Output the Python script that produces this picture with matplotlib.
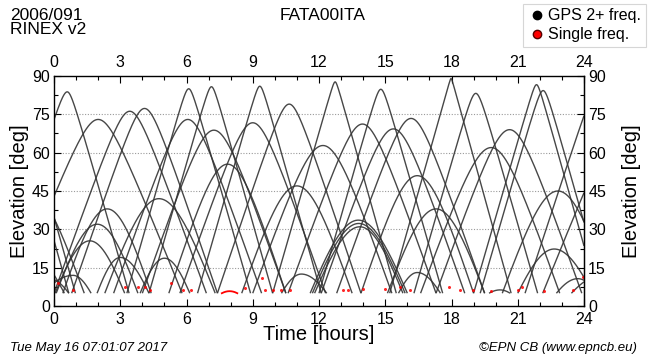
import numpy as np
import matplotlib
matplotlib.use('Agg')
import matplotlib.pyplot as plt
from matplotlib.lines import Line2D

plt.rcParams['font.family'] = ['Liberation Sans', 'DejaVu Sans']

# satellite passes: peak time [h], peak elevation [deg],
# time the track rises above / sets below the 5 deg cut-off [h]
pass_peak = [-2.08, -1.78, -1.11, -1.28, -0.21,
             0.60, 2.00, 2.41, 1.96, 1.62, 0.86, 3.00, 3.43, 4.10, 4.75,
             5.00, 6.10, 6.06, 7.13, 7.24, 7.86, 9.32, 9.00, 10.65, 11.00,
             11.20, 12.18, 12.73, 13.78, 13.80, 13.85, 13.97, 14.80, 15.37, 16.17,
             16.45, 16.45, 17.30, 17.98, 19.10, 19.80, 20.20, 20.63, 21.85, 22.15,
             22.65, 22.82, 23.72, 24.54, 25.93, 24.79]
pass_elev = [86.6, 84.3, 45.0, 22.3, 10.7,
             83.8, 73.0, 38.0, 32.0, 25.5, 12.0, 19.0, 76.2, 77.3, 42.0,
             18.7, 85.0, 73.0, 85.8, 68.8, 55.5, 86.0, 71.7, 79.0, 47.0,
             12.5, 62.8, 87.7, 33.6, 32.3, 31.0, 71.2, 84.8, 69.3, 73.4,
             51.0, 13.1, 38.0, 89.0, 83.2, 62.0, 6.3, 69.0, 86.6, 84.3,
             22.3, 45.0, 10.7, 83.8, 73.0, 12.0]
pass_rise = [-4.93, -4.63, -3.63, -2.93, -1.18,
             -2.60, -1.80, 0.40, 0.10, 0.05, -0.50, 1.95, 0.00, 0.80, 2.30,
             3.90, 3.30, 2.70, 4.30, 4.00, 5.20, 6.50, 5.70, 7.40, 8.50,
             10.30, 9.00, 9.90, 11.60, 11.70, 11.80, 10.60, 12.00, 12.10, 12.80,
             13.90, 15.60, 15.10, 15.20, 16.30, 16.60, 19.70, 17.30, 19.00, 19.30,
             21.00, 20.30, 22.75, 21.33, 22.13, 23.43]
pass_set = [0.67, 0.97, 1.37, 0.47, 0.67,
            3.40, 5.80, 4.40, 3.80, 3.20, 1.68, 4.30, 6.90, 7.40, 7.30,
            6.15, 8.90, 9.40, 9.90, 10.50, 10.50, 12.10, 12.30, 13.90, 13.50,
            12.35, 15.30, 15.50, 16.00, 15.90, 15.80, 17.30, 17.60, 18.60, 19.50,
            19.00, 17.50, 19.50, 20.70, 21.90, 22.90, 20.65, 23.90, 24.60, 24.90,
            24.40, 25.30, 24.60, 27.30, 29.70, 25.60]

# short single-frequency pass (red arc)
single_pass = (7.60, 7.95, 8.30, 5.8)   # rise, peak, set, elevation

# red single-frequency epochs near the horizon
red_time = [0.20, 0.85, 3.20, 3.80, 4.10, 4.35, 5.30, 5.85, 6.20, 8.65,
            9.40, 9.55, 9.93, 10.30, 10.70, 13.10, 13.30, 14.00, 15.00, 15.67,
            16.10, 17.90, 18.40, 18.96, 19.80, 21.00, 21.20, 22.20, 23.50, 23.95]
red_elev = [9.0, 6.3, 7.4, 7.4, 7.4, 6.3, 9.0, 6.3, 6.3, 7.0,
            11.0, 6.3, 6.3, 6.3, 6.3, 6.3, 6.3, 6.5, 6.5, 7.4,
            6.3, 7.4, 6.3, 6.3, 6.0, 6.3, 7.4, 6.0, 6.3, 11.5]


def pass_curve(t_rise, t_peak, t_set, el_max, cutoff=5.0):
    zm = np.radians(90 - el_max)
    th5 = np.arccos(np.cos(np.radians(90 - cutoff)) / np.cos(zm))
    t = np.linspace(max(t_rise, 0), min(t_set, 24), 500)
    frac = np.where(t < t_peak, (t_peak - t) / (t_peak - t_rise),
                    (t - t_peak) / (t_set - t_peak))
    el = 90 - np.degrees(np.arccos(np.cos(zm) * np.cos(th5 * frac)))
    return t, el


fig = plt.figure(figsize=(6.5, 3.6), dpi=100)
ax = fig.add_axes([54 / 650, 54 / 360, 530 / 650, 230 / 360])

for tp, em, tr, ts in zip(pass_peak, pass_elev, pass_rise, pass_set):
    if ts <= 0 or tr >= 24:
        continue
    t, el = pass_curve(tr, tp, ts, em)
    ax.plot(t, el, color='#333333', lw=1.0, alpha=0.9, solid_capstyle='butt')

t, el = pass_curve(single_pass[0], single_pass[1], single_pass[2], single_pass[3])
ax.plot(t, el, color='red', lw=1.3)
ax.plot(red_time, red_elev, 'o', color='red', ms=2.2, mew=0, alpha=0.85)

ax.set_xlim(0, 24)
ax.set_ylim(0, 90)
ax.set_xticks(np.arange(0, 25, 3))
ax.set_xticks(np.arange(0, 25, 1), minor=True)
ax.set_yticks(np.arange(0, 91, 15))
ax.set_yticks(np.arange(0, 91, 7.5), minor=True)
ax.tick_params(which='both', direction='in', top=True, right=True,
               labeltop=True, labelright=True, labelsize=11.5, width=0.8)
ax.tick_params(which='major', length=5, pad=3)
ax.tick_params(axis='x', which='major', pad=4)
ax.tick_params(which='minor', length=3)
for y in range(15, 90, 15):
    ax.axhline(y, color='#9a9a9a', lw=0.8, ls=(0, (1, 1.5)), zorder=0)
for s in ax.spines.values():
    s.set_linewidth(1.0)

ax.set_xlabel('Time [hours]', fontsize=14.5, labelpad=-1)
ax.set_ylabel('Elevation [deg]', fontsize=14.5, labelpad=2)
ax2 = ax.secondary_yaxis('right')
ax2.set_yticks([])
ax2.set_ylabel('Elevation [deg]', fontsize=14.5, labelpad=27)

fig.text(10 / 650, 1 - 8 / 360, '2006/091\nRINEX v2', ha='left', va='top',
         fontsize=12.5, linespacing=0.95)
fig.text(323 / 650, 1 - 15 / 360, 'FATA00ITA', ha='center', va='center', fontsize=12.5)
fig.text(10 / 650, 12 / 360, 'Tue May 16 07:01:07 2017', ha='left', va='center',
         fontsize=9.5, style='italic')
fig.text(637 / 650, 12 / 360, '\u00a9EPN CB (www.epncb.eu)', ha='right', va='center',
         fontsize=9.5, style='italic')

handles = [Line2D([], [], ls='', marker='o', color='black', ms=6),
           Line2D([], [], ls='', marker='o', color='red', mec='#550000', ms=6)]
leg = fig.legend(handles, ['GPS 2+ freq.', 'Single freq.'], loc='upper right',
                 bbox_to_anchor=(0.994, 0.99), fontsize=11.5, frameon=True,
                 fancybox=False, handletextpad=0.1, handlelength=1.2,
                 borderpad=0.3, labelspacing=0.25, borderaxespad=0)
leg.get_frame().set_edgecolor('#cccccc')
leg.get_frame().set_linewidth(0.8)

fig.savefig('out.png', dpi=100)
